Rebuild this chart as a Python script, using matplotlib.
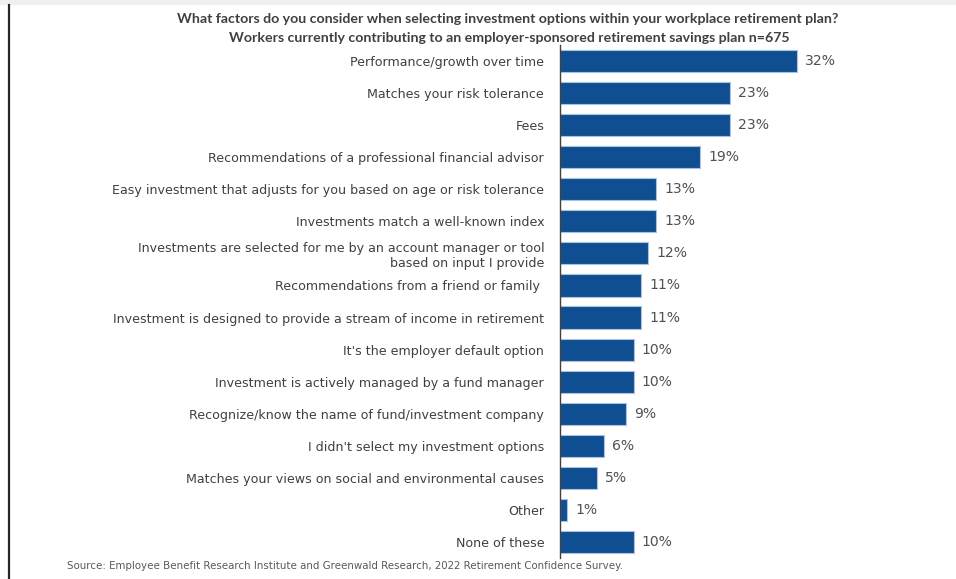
import matplotlib
matplotlib.use("Agg")
import matplotlib.pyplot as plt
from matplotlib.lines import Line2D
from matplotlib.patches import Rectangle

categories = [
    "Performance/growth over time",
    "Matches your risk tolerance",
    "Fees",
    "Recommendations of a professional financial advisor",
    "Easy investment that adjusts for you based on age or risk tolerance",
    "Investments match a well-known index",
    "Investments are selected for me by an account manager or tool\nbased on input I provide",
    "Recommendations from a friend or family ",
    "Investment is designed to provide a stream of income in retirement",
    "It's the employer default option",
    "Investment is actively managed by a fund manager",
    "Recognize/know the name of fund/investment company",
    "I didn't select my investment options",
    "Matches your views on social and environmental causes",
    "Other",
    "None of these",
]
values = [32, 23, 23, 19, 13, 13, 12, 11, 11, 10, 10, 9, 6, 5, 1, 10]

title_lines = [
    "What factors do you consider when selecting investment options within your workplace retirement plan?",
    "Workers currently contributing to an employer-sponsored retirement savings plan n=675",
]
source_text = ("Source: Employee Benefit Research Institute and Greenwald Research, "
               "2022 Retirement Confidence Survey.")

W, H = 956, 579
BAR = "#104E92"
EDGE = "#A9C2E2"
TEXT = "#404040"
FONT = "DejaVu Sans"
TITLE_FONT = "Lato"

fig = plt.figure(figsize=(W / 100, H / 100), dpi=100)
fig.patch.set_facecolor("white")

# page frame: grey strip at the top and a dark rule on the left
fig.add_artist(Rectangle((0, 1 - 5 / H), 1, 5 / H, transform=fig.transFigure,
                         facecolor="#F0F0F0", edgecolor="none"))
fig.add_artist(Line2D([8.5 / W, 8.5 / W], [0, 1 - 5 / H], transform=fig.transFigure,
                      color="#262626", lw=1.6))

x0, x1 = 559.5, 559.5 + 7.41 * 50
y_top, y_bot = 45, 558
ax = fig.add_axes([x0 / W, 1 - y_bot / H, (x1 - x0) / W, (y_bot - y_top) / H])
ax.set_facecolor("none")

pos = list(range(len(categories)))
ax.barh(pos, values, height=0.69, color=BAR, edgecolor=EDGE, linewidth=0.8)
ax.set_xlim(0, 50)
ax.set_ylim(len(categories) - 0.5, -0.5)

for s in ["top", "right", "bottom"]:
    ax.spines[s].set_visible(False)
ax.spines["left"].set_color("#404040")
ax.spines["left"].set_linewidth(1.0)
ax.set_xticks([])
ax.set_yticks(pos)
ax.set_yticklabels(categories, fontsize=9, color=TEXT, family=FONT)
ax.tick_params(axis="y", length=0, pad=11)

fig.canvas.draw()
renderer = fig.canvas.get_renderer()


def fit(txt, target_px):
    bb = txt.get_window_extent(renderer)
    txt.set_fontsize(txt.get_fontsize() * target_px / bb.width)


# size category labels from the longest single-line label
ref = [t for t in ax.get_yticklabels() if t.get_text() == categories[4]][0]
fit(ref, 430)
for t in ax.get_yticklabels():
    t.set_fontsize(ref.get_fontsize())

vals = []
for p, v in zip(pos, values):
    vals.append(ax.annotate(f"{v}%", (v, p), xytext=(6, 0), textcoords="offset points",
                            va="center", ha="left", fontsize=10.5, color="#505050",
                            family=FONT))
fit(vals[0], 31)
for t in vals:
    t.set_fontsize(vals[0].get_fontsize())

t1 = fig.text(508 / W, 1 - 23 / H, title_lines[0], ha="center", va="baseline",
              fontsize=8, fontweight="bold", color=TEXT, family=TITLE_FONT)
t2 = fig.text(509 / W, 1 - 42 / H, title_lines[1], ha="center", va="baseline",
              fontsize=8, fontweight="bold", color=TEXT, family=TITLE_FONT)
fit(t1, 666)
t2.set_fontsize(t1.get_fontsize())

src = fig.text(67 / W, 1 - 566 / H, source_text, ha="left", va="center",
               fontsize=7, color="#595959", family=FONT)
fit(src, 557)

fig.savefig("out.png", dpi=100, facecolor="white")
